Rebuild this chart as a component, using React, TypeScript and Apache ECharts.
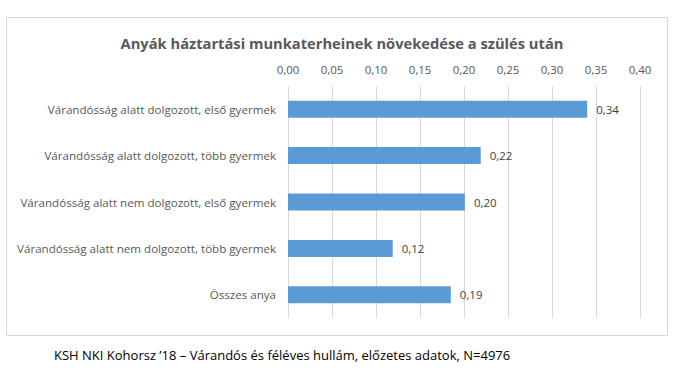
import React, { useEffect, useRef } from "react";
import * as echarts from "echarts";

const title = "Anyák háztartási munkaterheinek növekedése a szülés után";
const source = "KSH NKI Kohorsz ’18 – Várandós és féléves hullám, előzetes adatok, N=4976";
const categories = [
  "Várandósság alatt dolgozott, első gyermek",
  "Várandósság alatt dolgozott, több gyermek",
  "Várandósság alatt nem dolgozott, első gyermek",
  "Várandósság alatt nem dolgozott, több gyermek",
  "Összes anya",
];
const values = [0.34, 0.219, 0.201, 0.119, 0.185];
const valueLabels = ["0,34", "0,22", "0,20", "0,12", "0,19"];

const FONT = "'Open Sans', 'Noto Sans', sans-serif";

export default function App() {
  const ref = useRef<HTMLDivElement>(null);
  useEffect(() => {
    if (!ref.current) return;
    const chart = echarts.init(ref.current, null, { renderer: "svg" });
    chart.setOption({
      animation: false,
      backgroundColor: "#ffffff",
      title: {
        text: title,
        left: 337,
        textAlign: "center",
        top: 30,
        textStyle: { fontFamily: FONT, fontSize: 14.7, fontWeight: "bold", color: "#595959" },
      },
      graphic: [
        {
          type: "rect",
          shape: { x: 6.5, y: 17.5, width: 661, height: 318 },
          style: { fill: "none", stroke: "#d9d9d9", lineWidth: 1 },
          z: -1,
        },
        {
          type: "text",
          left: 54,
          top: 348,
          style: { text: source, fontFamily: FONT, fontSize: 13, fill: "#000000" },
        },
      ],
      grid: { left: 288, right: 41, top: 86, bottom: 61, containLabel: false },
      xAxis: {
        type: "value",
        position: "top",
        min: 0,
        max: 0.4,
        interval: 0.05,
        axisLine: { show: false },
        axisTick: { show: false },
        axisLabel: {
          margin: 11,
          fontFamily: FONT,
          fontSize: 11.5,
          color: "#595959",
          formatter: (v: number) => v.toFixed(2).replace(".", ","),
        },
        splitLine: { show: true, lineStyle: { color: "#d9d9d9", width: 1 } },
      },
      yAxis: {
        type: "category",
        inverse: true,
        data: categories,
        axisLine: { show: false },
        axisTick: { show: false },
        axisLabel: { margin: 12, fontFamily: FONT, fontSize: 11.6, color: "#595959" },
      },
      series: [
        {
          type: "bar",
          data: values,
          barWidth: 17,
          itemStyle: { color: "#5b9bd5" },
          label: {
            show: true,
            position: "right",
            distance: 9,
            fontFamily: FONT,
            fontSize: 11.5,
            color: "#404040",
            formatter: (p: any) => valueLabels[p.dataIndex],
          },
        },
      ],
    });
    return () => chart.dispose();
  }, []);
  return (
    <div
      ref={ref}
      style={{ position: "absolute", left: 0, top: 0, width: 681, height: 379 }}
    />
  );
}
